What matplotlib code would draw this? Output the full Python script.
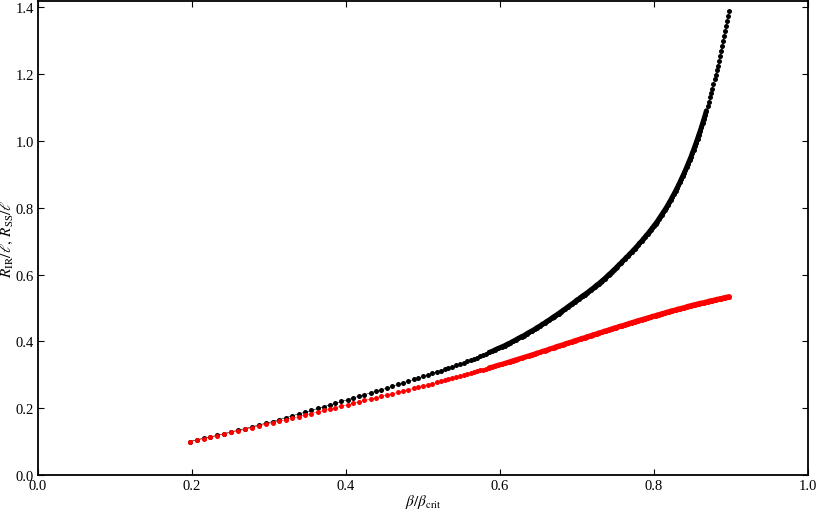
import numpy as np
import matplotlib
matplotlib.use("Agg")
import matplotlib.pyplot as plt

plt.rcParams["font.family"] = "serif"
plt.rcParams["font.serif"] = ["Liberation Serif", "DejaVu Serif"]
plt.rcParams["mathtext.fontset"] = "stix"

# beta / beta_crit, read dot by dot (spacing shrinks towards the end)
beta_a = [0.197, 0.206, 0.215, 0.224, 0.233, 0.242, 0.251, 0.260, 0.269, 0.278,
          0.287, 0.296, 0.305, 0.313, 0.322, 0.330, 0.339, 0.347]
beta_b = [0.355, 0.363, 0.371, 0.379, 0.386, 0.394, 0.402, 0.409, 0.417, 0.424,
          0.432, 0.439, 0.446, 0.453, 0.460, 0.467, 0.474, 0.481, 0.488]
beta_c = [0.494, 0.500, 0.506, 0.512, 0.518, 0.523, 0.528, 0.533, 0.538, 0.543,
          0.548, 0.553, 0.557, 0.562, 0.566, 0.570, 0.574, 0.578, 0.582, 0.586,
          0.590, 0.594, 0.598]
beta_d = [0.602, 0.606, 0.610, 0.613, 0.617, 0.621, 0.624, 0.628, 0.631, 0.635,
          0.638, 0.642, 0.645, 0.648, 0.652, 0.655, 0.658, 0.661, 0.664, 0.667,
          0.670, 0.673, 0.676, 0.679, 0.682, 0.685, 0.688, 0.691, 0.694, 0.697,
          0.700]
beta_e = [0.703, 0.705, 0.708, 0.710, 0.713, 0.716, 0.718, 0.721, 0.723, 0.726,
          0.728, 0.731, 0.733, 0.736, 0.738, 0.741, 0.743, 0.745, 0.748, 0.750,
          0.752, 0.755, 0.757, 0.759, 0.762, 0.764, 0.766, 0.768, 0.771, 0.773,
          0.775, 0.777, 0.779, 0.781, 0.784, 0.786, 0.788, 0.790, 0.792, 0.794,
          0.796, 0.798, 0.800]
beta_f = [0.802, 0.804, 0.806, 0.808, 0.810, 0.812, 0.814, 0.816, 0.818, 0.820,
          0.822, 0.824, 0.826, 0.828, 0.830,
          0.8318, 0.8336, 0.8354, 0.8372, 0.8390, 0.8408, 0.8426, 0.8444, 0.8462, 0.8480,
          0.8497, 0.8514, 0.8531, 0.8548, 0.8565, 0.8582, 0.8599, 0.8616,
          0.8632, 0.8648, 0.8664, 0.8680, 0.8696, 0.8712,
          0.8727, 0.8742, 0.8757, 0.8772, 0.8787, 0.8802,
          0.8816, 0.8830, 0.8844, 0.8858, 0.8872, 0.8886, 0.8900,
          0.8913, 0.8926, 0.8939, 0.8952, 0.8965, 0.8978]

# R_IR / l (black dots)
r_ir_a = [0.100, 0.105, 0.110, 0.114, 0.119, 0.124, 0.129, 0.134, 0.139, 0.144,
          0.150, 0.155, 0.160, 0.166, 0.172, 0.177, 0.183, 0.188]
r_ir_b = [0.193, 0.199, 0.204, 0.210, 0.214, 0.220, 0.225, 0.230, 0.236, 0.240,
          0.246, 0.251, 0.255, 0.260, 0.265, 0.271, 0.276, 0.281, 0.286]
r_ir_c = [0.290, 0.295, 0.299, 0.304, 0.309, 0.312, 0.316, 0.320, 0.324, 0.328,
          0.332, 0.336, 0.340, 0.344, 0.348, 0.351, 0.355, 0.359, 0.363, 0.367,
          0.370, 0.375, 0.379]
r_ir_d = [0.383, 0.387, 0.392, 0.395, 0.400, 0.405, 0.409, 0.414, 0.417, 0.423,
          0.427, 0.432, 0.436, 0.441, 0.446, 0.451, 0.455, 0.460, 0.464, 0.469,
          0.474, 0.478, 0.483, 0.488, 0.493, 0.498, 0.503, 0.508, 0.513, 0.518,
          0.524]
r_ir_e = [0.528, 0.532, 0.537, 0.540, 0.545, 0.550, 0.554, 0.559, 0.563, 0.569,
          0.572, 0.578, 0.582, 0.588, 0.592, 0.599, 0.603, 0.607, 0.614, 0.618,
          0.623, 0.630, 0.634, 0.639, 0.646, 0.651, 0.655, 0.660, 0.667, 0.672,
          0.677, 0.682, 0.687, 0.693, 0.700, 0.706, 0.711, 0.717, 0.722, 0.728,
          0.734, 0.740, 0.746]
r_ir_f = [0.752, 0.758, 0.765, 0.772, 0.779, 0.786, 0.793, 0.800, 0.808, 0.816,
          0.824, 0.833, 0.841, 0.850, 0.859,
          0.867, 0.876, 0.885, 0.894, 0.903, 0.912, 0.922, 0.932, 0.942, 0.952,
          0.963, 0.973, 0.984, 0.995, 1.006, 1.018, 1.029, 1.041,
          1.053, 1.065, 1.077, 1.090, 1.103, 1.117,
          1.130, 1.143, 1.156, 1.170, 1.184, 1.198,
          1.212, 1.225, 1.240, 1.254, 1.269, 1.284, 1.299,
          1.313, 1.328, 1.343, 1.358, 1.373, 1.389]

# R_SS / l (red dots)
r_ss_a = [0.100, 0.105, 0.109, 0.114, 0.118, 0.123, 0.128, 0.132, 0.137, 0.142,
          0.147, 0.152, 0.157, 0.161, 0.166, 0.170, 0.175, 0.179]
r_ss_b = [0.184, 0.188, 0.193, 0.197, 0.201, 0.206, 0.210, 0.214, 0.219, 0.223,
          0.227, 0.231, 0.235, 0.239, 0.243, 0.247, 0.251, 0.255, 0.259]
r_ss_c = [0.262, 0.266, 0.270, 0.273, 0.277, 0.280, 0.283, 0.286, 0.290, 0.293,
          0.296, 0.299, 0.302, 0.305, 0.308, 0.310, 0.313, 0.315, 0.318, 0.321,
          0.323, 0.326, 0.329]
r_ss_d = [0.331, 0.334, 0.337, 0.339, 0.342, 0.345, 0.347, 0.350, 0.352, 0.355,
          0.357, 0.360, 0.362, 0.365, 0.367, 0.370, 0.372, 0.374, 0.377, 0.379,
          0.381, 0.384, 0.386, 0.388, 0.390, 0.393, 0.395, 0.397, 0.399, 0.402,
          0.404]
r_ss_e = [0.406, 0.408, 0.410, 0.411, 0.414, 0.416, 0.417, 0.420, 0.421, 0.423,
          0.425, 0.427, 0.428, 0.431, 0.432, 0.434, 0.436, 0.437, 0.440, 0.441,
          0.442, 0.445, 0.446, 0.447, 0.449, 0.451, 0.452, 0.454, 0.456, 0.457,
          0.459, 0.460, 0.462, 0.463, 0.465, 0.466, 0.468, 0.469, 0.470, 0.472,
          0.473, 0.475, 0.476]
r_ss_f = [0.477, 0.479, 0.480, 0.481, 0.483, 0.484, 0.485, 0.487, 0.488, 0.489,
          0.491, 0.492, 0.493, 0.494, 0.496,
          0.497, 0.498, 0.499, 0.500, 0.501, 0.502, 0.504, 0.505, 0.506, 0.507,
          0.508, 0.509, 0.510, 0.511, 0.512, 0.513, 0.514, 0.515,
          0.515, 0.516, 0.517, 0.518, 0.519, 0.520,
          0.521, 0.522, 0.522, 0.523, 0.524, 0.525,
          0.526, 0.526, 0.527, 0.528, 0.528, 0.529, 0.530,
          0.531, 0.531, 0.532, 0.533, 0.533, 0.534]

beta = np.array(beta_a + beta_b + beta_c + beta_d + beta_e + beta_f)
r_ir = np.array(r_ir_a + r_ir_b + r_ir_c + r_ir_d + r_ir_e + r_ir_f)
r_ss = np.array(r_ss_a + r_ss_b + r_ss_c + r_ss_d + r_ss_e + r_ss_f)
assert len(beta) == len(r_ir) == len(r_ss)

MS = 3.6
fig = plt.figure(figsize=(8.17, 5.10), dpi=100)
ax = fig.add_axes([0.0465, 0.0667, 0.9425, 0.929])

# where the sampled dots sit so close that they merge into a band
dense_ir = (beta > 0.585) & (r_ir < 1.10)
dense_ss = beta > 0.585

ax.plot(beta, r_ir, color="black", marker="o", markersize=MS,
        markeredgewidth=0, linewidth=0.4)
ax.plot(beta[dense_ir], r_ir[dense_ir], color="black", linewidth=MS,
        solid_capstyle="round")
ax.plot(beta, r_ss, color="red", marker="o", markersize=MS,
        markeredgewidth=0, linewidth=0.4)
ax.plot(beta[dense_ss], r_ss[dense_ss], color="red", linewidth=MS,
        solid_capstyle="round")

ax.set_xlim(0.0, 1.0)
ax.set_ylim(0.0, 1.418)
ax.set_xticks([0.0, 0.2, 0.4, 0.6, 0.8, 1.0])
ax.set_yticks([0.0, 0.2, 0.4, 0.6, 0.8, 1.0, 1.2, 1.4])
ax.tick_params(direction="in", top=True, right=True, length=4, width=0.8,
               labelsize=10.5, pad=3)
for s in ax.spines.values():
    s.set_linewidth(1.3)

ax.set_xlabel(r"$\beta/\beta_{\rm crit}$", fontsize=11, labelpad=0)
ax.set_ylabel(r"$R_{\rm IR}/\ell,\, R_{\rm SS}/\ell$", fontsize=11, labelpad=0)

fig.savefig("out.png", dpi=100)
